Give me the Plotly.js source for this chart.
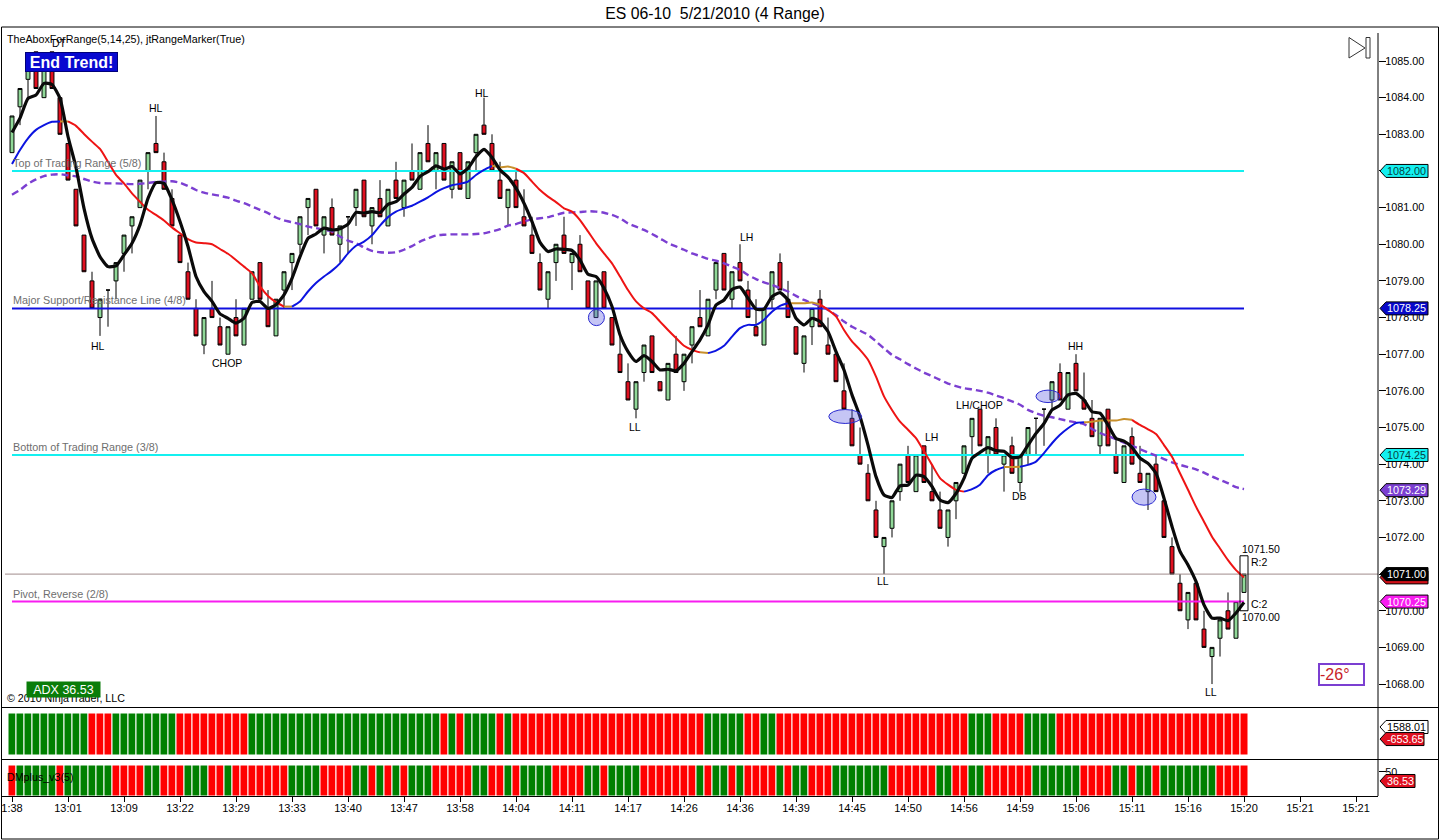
<!DOCTYPE html>
<html>
<head>
<meta charset="utf-8">
<script src="https://cdn.plot.ly/plotly-3.0.1.min.js"></script>
<style>html,body{margin:0;padding:0;background:#fff}#chart{width:1440px;height:840px}</style>
</head>
<body>
<div id="chart"></div>
<script>
const opens = [1082.5,1083.75,1084.5,1085.25,1084,1085.25,1084,1082.75,1081.5,1080.25,1079,1078,1078.75,1079,1079.75,1080.5,1081,1082,1082.75,1082.25,
1081.25,1080.25,1079.25,1078.25,1077.25,1078.25,1077.75,1077,1078,1077.25,1078.5,1079.5,1078.25,1077.5,1078.75,1079.5,1080,1081,1081.5,1080.25,
1081,1080,1080.75,1081,1081.75,1080.5,1081.25,1080.5,1081.75,1081,1082,1081.5,1082.75,1082,1082.75,1081.5,1082.5,1081.25,1082.5,1083.25,
1082.75,1081.75,1081,1081.75,1080.75,1080.25,1079.5,1078.5,1079.5,1080.25,1079.5,1080,1079,1078,1079.25,1078,1077,1076.25,1075.5,1076.5,
1077.5,1076.25,1075.75,1077,1076.25,1077.25,1078,1077.5,1078.75,1079.75,1078.5,1079.5,1078.75,1077.75,1077.25,1078.5,1079.5,1078.5,1077.75,1076.75,
1077.75,1078.5,1077.25,1077,1076,1075.25,1074.25,1073.75,1072.75,1071.75,1072.25,1073.25,1074.25,1073.25,1074.5,1073.25,1072.75,1072,1073,1073.75,
1074.75,1075.5,1074.25,1075,1074,1074.5,1073.5,1074.25,1075.25,1075.5,1075.75,1076.5,1075.5,1076.75,1075.75,1075.25,1074.5,1075.5,1074.25,1073.5,
1074.75,1073.75,1073.25,1074,1073,1071.75,1070.75,1069.75,1070.75,1069.5,1068.75,1069.25,1070,1069.25,1070.5];
const highs = [1083.5,1084.25,1085,1085.25,1085,1085.25,1084,1082.75,1081.5,1080.25,1079.25,1078.5,1078.75,1079.5,1080.25,1080.75,1081.75,1082.5,1083.5,1082.5,
1081.5,1080.25,1079.5,1078.5,1078,1079,1078,1077.75,1078.5,1078.25,1079.25,1079.5,1078.75,1078.5,1079.25,1079.75,1080.75,1081.25,1081.5,1080.75,
1081.25,1080.5,1080.75,1081.5,1081.75,1081,1081.75,1081.5,1082.25,1081.75,1082.75,1082.5,1083.25,1082.5,1082.75,1082.25,1082.5,1082.25,1083,1084,
1083,1082.25,1081.5,1082,1081.5,1080.75,1079.75,1079.25,1080,1080.75,1079.75,1080.25,1079,1079,1079.25,1078,1077.5,1076.75,1076.25,1077.25,
1077.5,1076.25,1076.75,1077.5,1077,1077.75,1078.75,1078.5,1079.5,1079.75,1079.25,1080,1079,1078.5,1078.25,1079.25,1079.75,1079,1077.75,1077.5,
1078.25,1078.75,1078,1077,1076.75,1075.5,1075,1074,1073,1072,1073,1074,1074.5,1074.25,1074.5,1074,1073.25,1072.75,1073.5,1074.5,
1075.25,1075.5,1074.75,1075.25,1074.25,1074.75,1074.25,1075,1075.25,1075.5,1076.25,1076.75,1076.5,1077,1076.5,1075.75,1075.25,1075.5,1074.75,1074.5,
1075,1074.5,1073.75,1074.25,1073,1072,1071,1070.5,1070.75,1070,1069,1069.75,1070.5,1070.25,1071];
const lows = [1082.5,1083.25,1084,1084.25,1084,1084.25,1083,1081.75,1080.5,1079.25,1078.25,1077.5,1077.75,1078.5,1079.25,1079.75,1081,1081.5,1082.5,1081.5,
1080.5,1079.5,1078.5,1077.5,1077,1078,1077.25,1077,1077.5,1077.25,1078.5,1078.5,1077.75,1077.5,1078.25,1078.75,1079.75,1080.25,1080.5,1079.75,
1080.25,1079.5,1079.75,1080.5,1080.75,1080,1080.75,1080.5,1081.25,1080.75,1081.75,1081.5,1082.25,1081.5,1081.75,1081.25,1081.5,1081.25,1082,1083,
1082,1081.25,1080.5,1081,1080.5,1079.75,1078.75,1078.25,1079,1079.75,1078.75,1079.25,1078.25,1078,1078.25,1077.25,1076.5,1075.75,1075.25,1076.25,
1076.5,1076,1075.75,1076.5,1076,1076.75,1077.75,1077.5,1078.5,1078.75,1078.25,1079,1078,1077.5,1077.25,1078.25,1078.75,1078,1077,1076.5,
1077.25,1077.75,1077,1076.25,1075.5,1074.5,1074,1073,1072,1071,1072,1073,1073.5,1073.25,1073.5,1073,1072.25,1071.75,1072.5,1073.75,
1074.25,1074.5,1073.75,1074.25,1073.25,1073.75,1073.25,1074,1074.25,1074.5,1075.5,1075.75,1075.5,1076,1075.5,1074.75,1074.25,1074.5,1073.75,1073.5,
1074,1073.5,1072.75,1073.25,1072,1071,1070,1069.5,1069.75,1069,1068,1068.75,1069.5,1069.25,1070.5];
const closes = [1083.5,1084.25,1085,1084.25,1085,1084.25,1083,1081.75,1080.5,1079.25,1078.25,1078.5,1078.75,1079.5,1080.25,1080.75,1081.75,1082.5,1082.5,1081.5,
1080.5,1079.5,1078.5,1077.5,1078,1078,1077.25,1077.75,1077.5,1078.25,1079.25,1078.5,1077.75,1078.5,1079.25,1079.75,1080.75,1081.25,1080.5,1080.75,
1080.25,1080.5,1080.75,1081.5,1080.75,1081,1080.75,1081.5,1081.25,1081.75,1081.75,1082.5,1082.25,1082.5,1081.75,1082.25,1081.5,1082.25,1083,1083,
1082,1081.25,1081.5,1081,1080.5,1079.75,1078.75,1079.25,1080,1079.75,1079.75,1079.25,1078.25,1079,1078.25,1077.25,1076.5,1075.75,1076.25,1077.25,
1076.5,1076,1076.75,1076.5,1077,1077.75,1077.75,1078.5,1079.5,1078.75,1079.25,1079,1078,1077.5,1078.25,1079.25,1078.75,1078,1077,1077.5,
1078.25,1077.75,1077,1076.25,1075.5,1074.5,1074,1073,1072,1072,1073,1074,1073.5,1074.25,1073.5,1073,1072.25,1072.75,1073.5,1074.5,
1075.25,1074.5,1074.75,1074.25,1074.25,1073.75,1074.25,1075,1075.25,1075.5,1076.25,1075.75,1076.5,1076,1075.5,1074.75,1075.25,1074.5,1073.75,1074.5,
1074,1073.5,1073.75,1073.25,1072,1071,1070,1070.5,1069.75,1069,1069,1069.75,1069.5,1070.25,1071];
const fastLine = [1083.05,1083.44,1083.98,1084.07,1084.39,1084.36,1083.98,1082.94,1082.1,1080.98,1080.16,1079.66,1079.39,1079.41,1079.71,1080.03,1080.53,1081.25,1081.68,1081.66,
1081.21,1080.62,1079.94,1079.12,1078.71,1078.44,1078.1,1077.98,1077.85,1077.98,1078.41,1078.44,1078.25,1078.35,1078.62,1079.07,1079.66,1080.16,1080.28,1080.44,
1080.39,1080.42,1080.55,1080.87,1080.85,1080.89,1080.86,1081.09,1081.16,1081.37,1081.55,1081.85,1081.98,1082.14,1082.05,1082.12,1081.92,1082.07,1082.39,1082.59,
1082.37,1082.03,1081.83,1081.53,1081.12,1080.62,1080.05,1079.8,1079.87,1079.86,1079.83,1079.57,1079.18,1079.12,1078.8,1078.3,1077.53,1077.07,1076.8,1076.96,
1076.8,1076.57,1076.59,1076.55,1076.75,1077.07,1077.39,1077.8,1078.34,1078.48,1078.77,1078.83,1078.53,1078.23,1078.23,1078.57,1078.68,1078.48,1077.98,1077.8,
1077.98,1077.89,1077.62,1077.07,1076.57,1075.89,1075.3,1074.52,1073.66,1073.16,1073.09,1073.41,1073.43,1073.7,1073.66,1073.39,1073.02,1072.95,1073.2,1073.61,
1074.16,1074.32,1074.45,1074.37,1074.35,1074.18,1074.2,1074.52,1074.84,1075.11,1075.48,1075.61,1075.89,1075.93,1075.75,1075.43,1075.39,1075.07,1074.7,1074.63,
1074.46,1074.16,1074.02,1073.75,1073.07,1072.3,1071.62,1071.25,1070.8,1070.16,1069.8,1069.8,1069.73,1069.94,1070.23];
const trendLine = [1082.19,1082.57,1082.89,1083.12,1083.25,1083.34,1083.35,1083.35,1083.23,1083.01,1082.8,1082.6,1082.25,1081.89,1081.66,1081.39,1081.16,1080.94,1080.8,1080.65,
1080.46,1080.3,1080.14,1080.05,1080.03,1080,1079.87,1079.74,1079.57,1079.39,1079.21,1078.85,1078.59,1078.42,1078.3,1078.3,1078.44,1078.71,1078.94,1079.12,
1079.28,1079.48,1079.75,1079.96,1080.07,1080.25,1080.51,1080.74,1080.89,1080.98,1081.05,1081.16,1081.28,1081.42,1081.53,1081.61,1081.65,1081.71,1081.89,1082.03,
1082.14,1082.1,1082.12,1082.06,1081.94,1081.71,1081.48,1081.3,1081.15,1080.98,1080.89,1080.66,1080.35,1080.03,1079.75,1079.48,1079.12,1078.75,1078.44,1078.25,
1078.12,1077.89,1077.66,1077.44,1077.23,1077.12,1077.05,1077.03,1077.1,1077.23,1077.48,1077.71,1077.8,1077.8,1077.94,1078.16,1078.32,1078.39,1078.39,1078.39,
1078.41,1078.35,1078.21,1078.03,1077.66,1077.35,1077.12,1076.85,1076.39,1075.85,1075.48,1075.16,1074.94,1074.71,1074.35,1073.98,1073.62,1073.44,1073.3,1073.25,
1073.32,1073.44,1073.7,1073.84,1073.92,1073.92,1073.93,1073.98,1074.07,1074.3,1074.57,1074.8,1074.98,1075.12,1075.14,1075.16,1075.19,1075.19,1075.19,1075.23,
1075.21,1075.07,1074.95,1074.82,1074.52,1074.2,1073.75,1073.3,1072.84,1072.43,1072.02,1071.7,1071.38,1071.11,1070.91];
const slowLine = [1081.35,1081.48,1081.65,1081.77,1081.86,1081.9,1081.91,1081.88,1081.85,1081.78,1081.71,1081.67,1081.66,1081.66,1081.65,1081.64,1081.65,1081.67,1081.7,1081.71,
1081.72,1081.68,1081.59,1081.48,1081.41,1081.36,1081.32,1081.27,1081.19,1081.12,1081.03,1080.94,1080.85,1080.73,1080.65,1080.6,1080.55,1080.48,1080.44,1080.39,
1080.35,1080.21,1080.1,1080.03,1079.91,1079.82,1079.78,1079.77,1079.78,1079.85,1079.95,1080.07,1080.16,1080.24,1080.26,1080.27,1080.27,1080.27,1080.28,1080.3,
1080.35,1080.41,1080.51,1080.55,1080.62,1080.68,1080.71,1080.74,1080.8,1080.86,1080.87,1080.88,1080.9,1080.89,1080.86,1080.8,1080.71,1080.57,1080.48,1080.39,
1080.28,1080.16,1080.03,1079.94,1079.85,1079.75,1079.68,1079.6,1079.55,1079.48,1079.39,1079.3,1079.16,1079.05,1078.96,1078.89,1078.8,1078.71,1078.59,1078.48,
1078.39,1078.32,1078.21,1078.07,1077.89,1077.75,1077.64,1077.53,1077.35,1077.16,1076.98,1076.86,1076.73,1076.61,1076.5,1076.4,1076.3,1076.2,1076.13,1076.07,
1076.04,1076,1075.95,1075.87,1075.8,1075.71,1075.62,1075.48,1075.39,1075.32,1075.28,1075.23,1075.18,1075.14,1075.09,1074.96,1074.85,1074.77,1074.68,1074.59,
1074.5,1074.41,1074.32,1074.23,1074.14,1074.05,1073.98,1073.92,1073.86,1073.77,1073.66,1073.57,1073.48,1073.37,1073.32];
const adxRuns = [['G',10],['R',3],['G',8],['R',9],['G',24],['R',1],['G',1],['R',1],['G',4],['R',1],['G',1],['R',24],['G',5],['R',2],['G',2],['R',24],['G',3],['R',4],['G',4],['R',24]];
const dmRuns = [['R',1],['G',5],['R',1],['G',6],['R',4],['G',2],['R',3],['G',3],['R',2],['G',1],['R',7],['G',4],['R',4],['G',2],['R',1],['G',1],['R',1],['G',1],['R',1],['G',3],['R',5],['G',2],['R',2],['G',1],['R',1],['G',4],['R',4],['G',2],['R',1],['G',4],['R',7],['G',1],['R',1],['G',2],['R',1],['G',1],['R',4],['G',1],['R',1],['G',2],['R',3],['G',7],['R',6],['G',2],['R',2],['G',2],['R',6],['G',6],['R',4],['G',2],['R',1],['G',2],['R',1],['G',7],['R',4]];
const trendSegments = [[0,6,'blue'],[6,7,'orange'],[7,34,'red'],[34,35,'orange'],[35,60,'blue'],[60,63,'orange'],[63,86,'red'],[86,87,'orange'],[87,97,'blue'],[97,101,'orange'],[101,119,'red'],[119,124,'blue'],[124,126,'orange'],[126,134,'blue'],[134,140,'orange'],[140,154,'red']];
const levelValues = [1082,1078.25,1074.25,1070.25];
const levelNames = ['Top of Trading Range (5/8)','Major Support/Resistance Line (4/8)','Bottom of Trading Range (3/8)','Pivot, Reverse (2/8)'];
const levelColors = ['#14f0f0','#1010e0','#14f0f0','#f81cf0'];
const lastPrice = 1071;
const xTickLabels = ['1:38','13:01','13:09','13:22','13:29','13:33','13:40','13:47','13:58','14:04','14:11','14:17','14:26','14:36','14:39','14:45','14:50','14:56','14:59','15:06','15:11','15:16','15:20','15:21','15:21'];
const swingLabels = [['DT',5.9,1085.49],['HL',18,1083.72],['HL',10.75,1077.22],['CHOP',26.9,1076.76],['HL',58.75,1084.13],['LL',77.9,1075.01],['LH',91.75,1080.2],['LL',108.9,1070.81],['LH',114.9,1074.74],['LH/CHOP',120.9,1075.61],['DB',125.9,1073.13],['HH',132.9,1077.22],['LL',149.9,1067.78]];
const ellipses = [[73.05,1078,1,0.22],[104.15,1075.3,2.05,0.19],[129.5,1075.85,1.5,0.17],[141.5,1073.1,1.5,0.22]];
const callouts = [
 ['y',1082,'1082.00','#14f0f0','#064040',1428],['y',1078.25,'1078.25','#0808c8','#fff',1428],['y',1074.25,'1074.25','#14f0f0','#064040',1428],
 ['y',1073.29,'1073.29','#7b3fd1','#fff',1428],['y',1070.91,'','#d01018','#fff',1428],['y',1071,'1071.00','#000','#fff',1428],['y',1070.25,'1070.25','#f81cf0','#fff',1428],
 ['y2',0.667,'1588.01','#fff','#000',1428],['y2',0.38,'-653.65','#e01020','#fff',1424],['y3',0.484,'36.53','#e01020','#fff',1415]];

const barIndex = opens.map((_, i) => i);
const expand = runs => runs.flatMap(([s, n]) => Array(n).fill(s));
const stateColor = s => s === 'G' ? '#008000' : '#ff0000';
const trendColor = {blue:'#0c14e0', red:'#ee1414', orange:'#c8902c'};

const L = 2, R = 1378, T = 27, B = 796, W = R - L, H = B - T;
const fx = p => (p - L) / W, fy = p => (B - p) / H;
const dom1 = [fy(707), 1], dom2 = [fy(759), fy(707)], dom3 = [0, fy(760)];
const range1 = [1085 - (707 - 61) / 36.65, 1085 + (61 - 27) / 36.65];
const range2 = [-0.095, 1.143], range3 = [0, 36 / 31];
const valPaper = (ax, v) => {
  const [d, r] = ax === 'y' ? [dom1, range1] : ax === 'y2' ? [dom2, range2] : [dom3, range3];
  return d[0] + (v - r[0]) / (r[1] - r[0]) * (d[1] - d[0]);
};

const traces = [];
levelValues.forEach((v, k) => traces.push({type:'scatter', mode:'lines', x:[barIndex[0], barIndex[barIndex.length-1]], y:[v, v], line:{color:levelColors[k], width:2}, hoverinfo:'skip'}));
traces.push({type:'scatter', mode:'lines', x:[-0.875, 170.75], y:[lastPrice, lastPrice], line:{color:'#a08c8c', width:1}, hoverinfo:'skip'});
traces.push({type:'candlestick', x:barIndex, open:opens, high:highs, low:lows, close:closes, whiskerwidth:0,
  increasing:{line:{color:'#000', width:1}, fillcolor:'#90d898'},
  decreasing:{line:{color:'#000', width:1}, fillcolor:'#e01020'}, hoverinfo:'skip'});
traces.push({type:'scatter', mode:'lines', x:barIndex, y:slowLine, line:{color:'#7b3fd1', width:2.4, dash:'7px,4px', shape:'spline', smoothing:0.6}, hoverinfo:'skip'});
trendSegments.forEach(([a, b, c]) => traces.push({type:'scatter', mode:'lines', x:barIndex.slice(a, b + 1), y:trendLine.slice(a, b + 1), line:{color:trendColor[c], width:2, shape:'spline', smoothing:0.6}, hoverinfo:'skip'}));
traces.push({type:'scatter', mode:'lines', x:barIndex, y:fastLine, line:{color:'#0a0a0a', width:3.2, shape:'spline', smoothing:0.5}, hoverinfo:'skip'});
traces.push({type:'bar', x:barIndex, y:barIndex.map(() => 1), yaxis:'y2', width:1, marker:{color:expand(adxRuns).map(stateColor), line:{width:1, color:'#fff'}}, hoverinfo:'skip'});
traces.push({type:'bar', x:barIndex, y:barIndex.map(() => 1), yaxis:'y3', width:1, marker:{color:expand(dmRuns).map(stateColor), line:{width:1, color:'#fff'}}, hoverinfo:'skip'});

const FONT = '"Liberation Sans", Arial, sans-serif';
const note = (x, y, text, o = {}) => Object.assign({xref:'paper', yref:'paper', x:fx(x), y:fy(y), text, showarrow:false, xanchor:'left', yanchor:'middle', borderpad:0,
  font:{family:FONT, size:o.size || 10.5, color:o.color || '#000'}}, o.extra || {});

const annotations = [];
levelNames.forEach((t, k) => annotations.push({xref:'x', yref:'y', x:-0.15, y:levelValues[k], yshift:8, text:t, showarrow:false, xanchor:'left', yanchor:'middle', font:{family:FONT, size:10.8, color:'#6e6e6e'}}));
swingLabels.forEach(([t, x, y]) => annotations.push({xref:'x', yref:'y', x, y, text:t, showarrow:false, xanchor:'center', yanchor:'middle', font:{family:FONT, size:10.5, color:'#000'}}));
annotations.push(note(6, 39, 'TheAboxForRange(5,14,25), jtRangeMarker(True)', {size:10.7}));
annotations.push(note(25, 62, 'End Trend!', {size:16, color:'#fff', extra:{text:'<b>End Trend!</b>', width:91, height:18, align:'center', bgcolor:'#0808d0', bordercolor:'#00007a', borderwidth:1}}));
annotations.push(note(6, 698, '© 2010 NinjaTrader, LLC', {size:10.7}));
annotations.push(note(26, 689.5, 'ADX 36.53', {size:12.5, color:'#fff', extra:{width:73, height:15, align:'center', bgcolor:'#0a7d0a'}}));
annotations.push(note(6, 777, 'DMplus_v3(5)', {size:10.7}));
annotations.push(note(1241, 549, '1071.50'));
annotations.push(note(1250, 562, 'R:2'));
annotations.push(note(1250, 604, 'C:2'));
annotations.push(note(1241, 617, '1070.00'));
annotations.push(note(1318, 674, '-26°', {size:16, color:'#c81e28', extra:{width:43, height:19, align:'left', bordercolor:'#7b3fd1', borderwidth:2}}));
callouts.filter(c => c[2]).forEach(([ax, v, t, bg, fg]) => annotations.push({xref:'paper', yref:ax, x:fx(1385), y:v, text:t, showarrow:false, xanchor:'left', yanchor:'middle', font:{family:FONT, size:10.8, color:fg}}));

const line = (x0, y0, x1, y1, color = '#000', width = 1) => ({type:'line', xref:'paper', yref:'paper', x0:fx(x0), y0:fy(y0), x1:fx(x1), y1:fy(y1), line:{color, width}});
const shapes = [
  line(1.5, 27, 1438.5, 27), line(1.5, 27, 1.5, 839), line(1438.5, 27, 1438.5, 839), line(1.5, 839, 1438.5, 839),
  line(2, 707.5, 1438, 707.5), line(2, 759.5, 1438, 759.5), line(1378, 33, 1378, 796),
  {type:'path', xref:'paper', yref:'paper', path:`M${fx(1349)},${fy(37.5)} L${fx(1365)},${fy(48)} L${fx(1349)},${fy(58)} Z`, line:{color:'#333', width:1}, fillcolor:'#fff'},
  {type:'rect', xref:'paper', yref:'paper', x0:fx(1366), x1:fx(1370), y0:fy(37.5), y1:fy(58), line:{color:'#333', width:1}, fillcolor:'#fff'},
  {type:'rect', xref:'x', yref:'y', x0:153.5, x1:154.5, y0:1071.5, y1:1070, line:{color:'#000', width:1}, fillcolor:'rgba(0,0,0,0)'}
];
ellipses.forEach(([cx, cy, rx, ry]) => shapes.push({type:'circle', xref:'x', yref:'y', x0:cx - rx, x1:cx + rx, y0:cy - ry, y1:cy + ry, line:{color:'#2a2ad0', width:1}, fillcolor:'rgba(90,90,225,0.35)'}));
callouts.forEach(([ax, v, t, bg, fg, right]) => {
  const c = valPaper(ax, v), h = 6.5 / H;
  shapes.push({type:'path', xref:'paper', yref:'paper', path:`M${fx(1380)},${c} L${fx(1386)},${c + h} L${fx(right)},${c + h} L${fx(right)},${c - h} L${fx(1386)},${c - h} Z`, line:{color:'#000', width:1}, fillcolor:bg});
});

const layout = {
  width:1440, height:840, autosize:false, showlegend:false, paper_bgcolor:'#fff', plot_bgcolor:'#fff',
  margin:{l:L, r:1440 - R, t:T, b:840 - B, pad:0},
  title:{text:'ES 06-10\u00a0\u00a05/21/2010 (4 Range)', x:715 / 1440, xanchor:'center', xref:'container', y:1 - 13.5 / 840, yanchor:'middle', font:{family:FONT, size:15.8, color:'#000'}},
  bargap:0, dragmode:false, hovermode:false,
  xaxis:{anchor:'y3', range:[-1.25, 170.75], rangeslider:{visible:false}, showgrid:false, zeroline:false, showline:true, linecolor:'#000', linewidth:1,
    ticks:'outside', ticklen:5, tickcolor:'#000', tickwidth:1, tickmode:'array', tickvals:xTickLabels.map((_, i) => i * 7), ticktext:xTickLabels, tickangle:0, ticklabelstandoff:-3,
    tickfont:{family:FONT, size:11, color:'#000'}},
  yaxis:{domain:dom1, range:range1, anchor:'x', side:'right', showgrid:false, zeroline:false, showline:false, ticks:'outside', ticklen:7, tickcolor:'#000', tickwidth:1, ticklabelstandoff:-3,
    tickmode:'linear', tick0:1068, dtick:1, tickformat:'.2f', tickfont:{family:FONT, size:10.8, color:'#000'}},
  yaxis2:{domain:dom2, range:range2, anchor:'x', side:'right', showgrid:false, zeroline:false, showline:false, showticklabels:false, ticks:''},
  yaxis3:{domain:dom3, range:range3, anchor:'x', side:'right', showgrid:false, zeroline:false, showline:false, ticks:'outside', ticklen:7, tickcolor:'#000', tickmode:'array', ticklabelstandoff:-3,
    tickvals:[0.78], ticktext:['50'], tickfont:{family:FONT, size:10.8, color:'#000'}},
  annotations, shapes
};
Plotly.newPlot('chart', traces, layout, {displayModeBar:false, staticPlot:true});
</script>
</body>
</html>
